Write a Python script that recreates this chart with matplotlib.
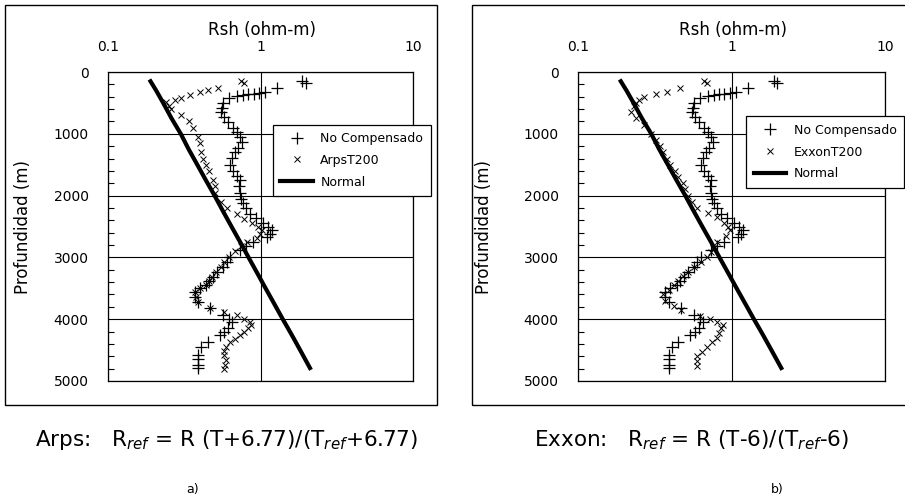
import matplotlib.pyplot as plt
from matplotlib.patches import Rectangle
from matplotlib.ticker import FixedLocator, MultipleLocator

# ----- datos -----
# Sin compensar (igual en los dos paneles)
nc_prof = [150, 170, 260, 330, 340, 350, 360, 370, 385, 420,
           500, 585, 650, 730, 810, 900, 970, 1050, 1130, 1230,
           1300, 1390, 1500, 1600, 1680, 1750, 1850, 1960, 2050, 2120,
           2200, 2290, 2370, 2450, 2510, 2560, 2620, 2670, 2750, 2820,
           2880, 2990, 3070, 3150, 3230, 3310, 3380, 3450, 3500, 3560,
           3640, 3720, 3820, 3930, 4000, 4050, 4140, 4200, 4260, 4370,
           4450, 4580, 4650, 4740, 4790]
nc_rsh = [1.88, 1.98, 1.28, 1.07, 0.98, 0.90, 0.83, 0.77, 0.70, 0.62,
          0.57, 0.56, 0.55, 0.58, 0.61, 0.66, 0.70, 0.73, 0.76, 0.71,
          0.68, 0.65, 0.63, 0.66, 0.70, 0.73, 0.72, 0.73, 0.75, 0.77,
          0.80, 0.85, 0.93, 1.04, 1.12, 1.19, 1.15, 1.10, 0.89, 0.80,
          0.73, 0.63, 0.60, 0.57, 0.52, 0.49, 0.46, 0.44, 0.40, 0.37,
          0.37, 0.39, 0.47, 0.57, 0.62, 0.65, 0.61, 0.58, 0.54, 0.45,
          0.41, 0.39, 0.39, 0.39, 0.39]

# Arps T200
arps_prof = [150, 170, 260, 290, 330, 380, 420, 450, 490, 550,
             600, 700, 800, 900, 1050, 1150, 1300, 1400, 1500, 1600,
             1750, 1850, 1950, 2100, 2200, 2300, 2380, 2450, 2510, 2560,
             2620, 2680, 2750, 2820, 2900, 3000, 3080, 3150, 3230, 3310,
             3380, 3450, 3500, 3560, 3640, 3720, 3820, 3880, 3930, 4000,
             4050, 4100, 4140, 4200, 4260, 4320, 4370, 4450, 4520, 4580,
             4660, 4740, 4800]
arps_rsh = [0.74, 0.78, 0.53, 0.45, 0.40, 0.345, 0.30, 0.275, 0.24, 0.25,
            0.26, 0.30, 0.34, 0.36, 0.39, 0.40, 0.41, 0.42, 0.44, 0.46,
            0.49, 0.50, 0.50, 0.55, 0.60, 0.70, 0.78, 0.88, 0.96, 1.02,
            0.99, 0.95, 0.82, 0.75, 0.68, 0.62, 0.58, 0.55, 0.51, 0.48,
            0.46, 0.44, 0.40, 0.37, 0.38, 0.39, 0.47, 0.58, 0.70, 0.78,
            0.85, 0.86, 0.83, 0.78, 0.73, 0.68, 0.63, 0.59, 0.58, 0.58,
            0.59, 0.585, 0.58]

# Exxon T200
exxon_prof = [150, 170, 260, 320, 360, 400, 450, 500, 550, 650,
              750, 850, 1000, 1100, 1200, 1300, 1400, 1500, 1600, 1700,
              1800, 1900, 2000, 2100, 2200, 2280, 2350, 2450, 2510, 2560,
              2650, 2750, 2850, 2920, 3000, 3080, 3150, 3230, 3300, 3380,
              3450, 3520, 3600, 3700, 3780, 3850, 3950, 4000, 4050, 4100,
              4150, 4220, 4300, 4370, 4450, 4530, 4600, 4680, 4750]
exxon_rsh = [0.66, 0.69, 0.46, 0.38, 0.32, 0.27, 0.25, 0.24, 0.23, 0.22,
             0.24, 0.27, 0.30, 0.32, 0.34, 0.36, 0.38, 0.40, 0.43, 0.45,
             0.48, 0.50, 0.52, 0.55, 0.60, 0.70, 0.80, 0.90, 0.95, 0.98,
             0.92, 0.80, 0.76, 0.74, 0.69, 0.63, 0.57, 0.52, 0.48, 0.45,
             0.42, 0.39, 0.36, 0.37, 0.42, 0.47, 0.62, 0.72, 0.80, 0.88,
             0.86, 0.83, 0.80, 0.75, 0.69, 0.64, 0.60, 0.60, 0.60]

# Tendencia normal
normal_prof = [150, 300, 500, 750, 1000, 1250, 1500, 1750, 2000, 2250,
               2500, 2750, 3000, 3250, 3500, 3750, 4000, 4250, 4500, 4790]
normal_rsh = [0.19, 0.207, 0.23, 0.261, 0.30, 0.338, 0.385, 0.438, 0.50, 0.567,
              0.645, 0.735, 0.835, 0.95, 1.08, 1.23, 1.40, 1.60, 1.82, 2.11]

xticks = [0.1, 1, 10]
xticklabels = ["0.1", "1", "10"]
yticks = [0, 1000, 2000, 3000, 4000, 5000]

fig = plt.figure(figsize=(9.05, 5.03), dpi=100)

# marcos exteriores de cada grafico
fig.patches.append(Rectangle((5/905, 1-405/503), 432/905, 400/503, transform=fig.transFigure,
                             fill=False, ec="k", lw=1.0))
fig.patches.append(Rectangle((472/905, 1-405/503), 440/905, 400/503, transform=fig.transFigure,
                             fill=False, ec="k", lw=1.0, clip_on=False))


def panel(rect, comp_prof, comp_rsh, comp_label, leg_anchor, lab_x):
    ax = fig.add_axes(rect)
    ax.plot(nc_rsh, nc_prof, ls="none", marker="+", ms=9, mew=0.9, c="k", label="No Compensado")
    ax.plot(comp_rsh, comp_prof, ls="none", marker="x", ms=5, mew=0.7, c="k", label=comp_label)
    ax.plot(normal_rsh, normal_prof, c="k", lw=3, label="Normal")
    ax.set_xscale("log")
    ax.set_xlim(0.1, 10)
    ax.set_ylim(5000, 0)
    ax.xaxis.set_major_locator(FixedLocator(xticks))
    ax.set_xticklabels(xticklabels)
    ax.xaxis.set_minor_locator(FixedLocator([]))
    ax.xaxis.tick_top()
    ax.xaxis.set_label_position("top")
    ax.set_yticks(yticks)
    ax.yaxis.set_minor_locator(MultipleLocator(200))
    ax.tick_params(axis="x", length=0, pad=13, labelsize=10)
    ax.tick_params(axis="y", which="major", length=0, pad=14, labelsize=10)
    ax.tick_params(axis="y", which="minor", direction="in", length=4, width=0.8)
    ax.grid(True, which="major", color="k", lw=0.8)
    ax.set_xlabel("Rsh (ohm-m)", fontsize=12)
    ax.xaxis.set_label_coords(0.505, 1.12)
    ax.set_ylabel("Profundidad (m)", fontsize=12)
    ax.yaxis.set_label_coords(lab_x, 0.5)
    for s in ax.spines.values():
        s.set_linewidth(0.9)
    leg = ax.legend(loc="upper left", bbox_to_anchor=leg_anchor, fontsize=9,
                    fancybox=False, framealpha=1, edgecolor="k", handlelength=2.6,
                    borderpad=0.6, labelspacing=0.7, handletextpad=0.6)
    leg.get_frame().set_linewidth(0.9)
    return ax


panel([108/905, 1-381/503, 305/905, 309/503], arps_prof, arps_rsh, "ArpsT200", (0.52, 0.85), -0.25)
panel([578/905, 1-381/503, 307/905, 309/503], exxon_prof, exxon_rsh, "ExxonT200", (0.528, 0.877), -0.277)

fig.text(226/905, 1-440/503, r"Arps:   R$_{ref}$ = R (T+6.77)/(T$_{ref}$+6.77)",
         ha="center", va="center", fontsize=15.5)
fig.text(692/905, 1-440/503, r"Exxon:   R$_{ref}$ = R (T-6)/(T$_{ref}$-6)",
         ha="center", va="center", fontsize=15.5)
fig.text(193/905, 1-490/503, "a)", ha="center", va="center", fontsize=9)
fig.text(777/905, 1-490/503, "b)", ha="center", va="center", fontsize=9)

plt.savefig("out.png", dpi=100)
